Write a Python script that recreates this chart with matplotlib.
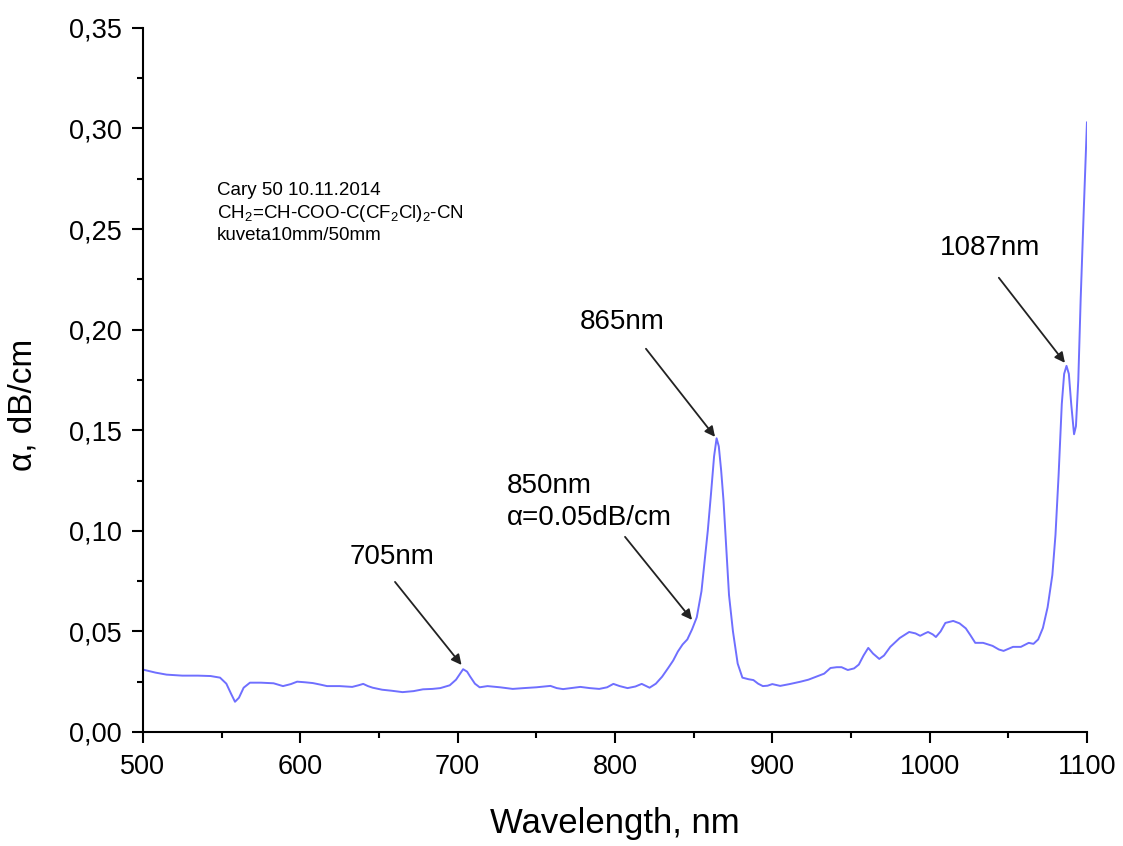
# Absorption spectrum, Cary 50
from matplotlib import pyplot as plt
from matplotlib.ticker import MultipleLocator, FuncFormatter
import numpy as np

plt.rcParams['font.family'] = ['Liberation Sans', 'DejaVu Sans']
plt.rcParams['mathtext.fontset'] = 'custom'
plt.rcParams['mathtext.rm'] = 'Liberation Sans'
plt.rcParams['mathtext.it'] = 'Liberation Sans:italic'

# wavelength, nm
wl = [500, 508, 515, 525, 535, 543, 549, 553, 556, 558.5, 561, 564, 568, 575, 583,
      589, 594, 598, 603, 608, 613, 617, 625, 633, 637, 640, 643, 646, 652, 658,
      665, 672, 678, 684, 689, 695, 699, 703.5, 706, 708, 711, 714, 719, 727, 735,
      742, 750, 759, 763, 767, 772, 778, 784, 790, 795, 799, 803, 808, 813, 817,
      822, 826, 830, 834, 837, 840, 843, 846, 849, 852, 855, 857, 859, 861, 863,
      864.6, 866, 867.5, 869, 870.5, 872.5, 875, 878, 881, 885, 888, 891, 894, 897,
      900, 905, 911, 918, 923, 928, 933, 937, 941, 944, 948, 952, 955, 958, 961,
      964, 968, 971, 975, 981, 987, 991, 994, 997, 999, 1002, 1004, 1007, 1010,
      1015, 1019, 1023, 1026, 1029, 1034, 1040, 1044, 1047, 1050, 1053, 1058,
      1061, 1063, 1066, 1069, 1072, 1075, 1078, 1080, 1082, 1084, 1085.5, 1087,
      1088.5, 1090, 1091.8, 1093, 1094.5, 1096, 1098, 1100]

# attenuation, dB/cm
alpha = [0.031, 0.0295, 0.0285, 0.028, 0.028, 0.0278, 0.027, 0.024, 0.019, 0.015,
         0.017, 0.022, 0.0245, 0.0245, 0.0242, 0.0228, 0.0238, 0.025, 0.0247, 0.0243,
         0.0235, 0.0228, 0.0228, 0.0224, 0.0232, 0.0239, 0.0228, 0.022, 0.021, 0.0205,
         0.0198, 0.0203, 0.0212, 0.0214, 0.0218, 0.0232, 0.026, 0.0312, 0.030, 0.0275,
         0.024, 0.0222, 0.0228, 0.0222, 0.0214, 0.0218, 0.0222, 0.0229, 0.0218, 0.0213,
         0.0218, 0.0224, 0.0218, 0.0214, 0.0222, 0.0239, 0.0228, 0.0218, 0.0226, 0.0239,
         0.022, 0.024, 0.0275, 0.032, 0.0355, 0.040, 0.0435, 0.046, 0.051, 0.057,
         0.070, 0.085, 0.100, 0.118, 0.137, 0.146, 0.142, 0.130, 0.115, 0.095,
         0.068, 0.050, 0.034, 0.027, 0.0262, 0.0258, 0.024, 0.0228, 0.023, 0.0238,
         0.0229, 0.0238, 0.025, 0.026, 0.0275, 0.029, 0.0318, 0.0322, 0.0322, 0.0308,
         0.0316, 0.0335, 0.038, 0.0418, 0.039, 0.0363, 0.038, 0.0423, 0.0467, 0.0497,
         0.049, 0.0478, 0.049, 0.0497, 0.0485, 0.0472, 0.050, 0.0542, 0.0552, 0.054,
         0.0515, 0.048, 0.0443, 0.0443, 0.0428, 0.041, 0.0403, 0.0413, 0.0423, 0.0423,
         0.0435, 0.0443, 0.0438, 0.046, 0.0517, 0.062, 0.078, 0.098, 0.128, 0.163,
         0.178, 0.182, 0.178, 0.163, 0.148, 0.152, 0.175, 0.215, 0.260, 0.303]

fig = plt.figure(figsize=(11.23, 8.46), dpi=100)
ax = fig.add_axes([0.1273, 0.1348, 0.8406, 0.8322])

ax.plot(wl, alpha, color='#6f6fff', lw=1.4)

ax.set_xlim(500, 1100)
ax.set_ylim(0, 0.35)
ax.xaxis.set_major_locator(MultipleLocator(100))
ax.xaxis.set_minor_locator(MultipleLocator(50))
ax.yaxis.set_major_locator(MultipleLocator(0.05))
ax.yaxis.set_minor_locator(MultipleLocator(0.025))
ax.yaxis.set_major_formatter(FuncFormatter(lambda v, p: f'{v:.2f}'.replace('.', ',')))

for s in ['top', 'right']:
    ax.spines[s].set_visible(False)
for s in ['left', 'bottom']:
    ax.spines[s].set_linewidth(1.5)
ax.tick_params(which='major', direction='out', length=8, width=1.5, labelsize=19.5)
ax.tick_params(axis='x', which='major', pad=8)
ax.tick_params(axis='y', which='major', pad=7)
ax.tick_params(which='minor', direction='out', length=4, width=1.5)

ax.set_xlabel('Wavelength, nm', fontsize=25)
ax.set_ylabel('α, dB/cm', fontsize=24)
ax.xaxis.set_label_coords(0.5, -0.106)
ax.yaxis.set_label_coords(-0.111, 0.4645)

arrow = dict(arrowstyle='-|>', color='#222222', lw=1.3, mutation_scale=15,
             shrinkA=0, shrinkB=0)
ax.annotate('', xy=(702.5, 0.0333), xytext=(660.2, 0.0746), arrowprops=arrow)
ax.annotate('', xy=(849, 0.0557), xytext=(806.4, 0.097), arrowprops=arrow)
ax.annotate('', xy=(863.6, 0.1467), xytext=(819.7, 0.1905), arrowprops=arrow)
ax.annotate('', xy=(1086, 0.1835), xytext=(1044, 0.2258), arrowprops=arrow)

ax.text(658.3, 0.0870, '705nm', fontsize=20, ha='center', va='center')
ax.text(804.5, 0.2039, '865nm', fontsize=20, ha='center', va='center')
ax.text(1038.4, 0.2407, '1087nm', fontsize=20, ha='center', va='center')
ax.text(731.4, 0.1285, '850nm\nα=0.05dB/cm', fontsize=20, ha='left', va='top',
        linespacing=1.3)

ax.text(547, 0.2735,
        'Cary 50 10.11.2014\nCH$_2$=CH-COO-C(CF$_2$Cl)$_2$-CN\nkuveta10mm/50mm',
        fontsize=13.5, va='top', ha='left', linespacing=1.25)

fig.savefig('out.png', dpi=100)
